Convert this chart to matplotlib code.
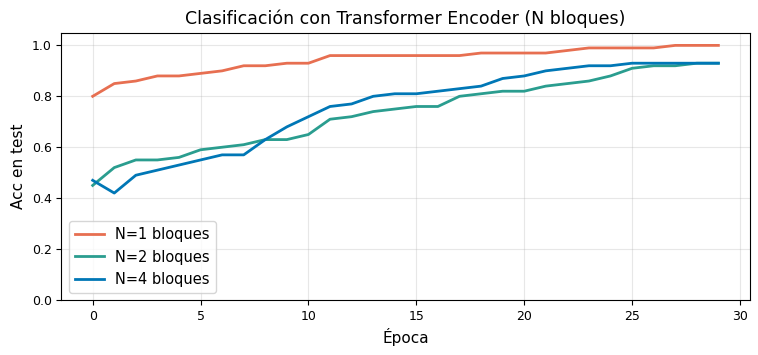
import matplotlib
matplotlib.use("Agg")
import matplotlib.pyplot as plt

# Accuracy per epoch for each number of encoder blocks
epochs = list(range(30))
acc_n1 = [0.80, 0.85, 0.86, 0.88, 0.88, 0.89, 0.90, 0.92, 0.92, 0.93,
          0.93, 0.96, 0.96, 0.96, 0.96, 0.96, 0.96, 0.96, 0.97, 0.97,
          0.97, 0.97, 0.98, 0.99, 0.99, 0.99, 0.99, 1.00, 1.00, 1.00]
acc_n2 = [0.45, 0.52, 0.55, 0.55, 0.56, 0.59, 0.60, 0.61, 0.63, 0.63,
          0.65, 0.71, 0.72, 0.74, 0.75, 0.76, 0.76, 0.80, 0.81, 0.82,
          0.82, 0.84, 0.85, 0.86, 0.88, 0.91, 0.92, 0.92, 0.93, 0.93]
acc_n4 = [0.47, 0.42, 0.49, 0.51, 0.53, 0.55, 0.57, 0.57, 0.63, 0.68,
          0.72, 0.76, 0.77, 0.80, 0.81, 0.81, 0.82, 0.83, 0.84, 0.87,
          0.88, 0.90, 0.91, 0.92, 0.92, 0.93, 0.93, 0.93, 0.93, 0.93]

fig = plt.figure(figsize=(7.58, 3.55), dpi=100)
ax = fig.add_axes([0.081, 0.155, 0.908, 0.753])

ax.plot(epochs, acc_n1, color="#e76f51", linewidth=2, label="N=1 bloques")
ax.plot(epochs, acc_n2, color="#2a9d8f", linewidth=2, label="N=2 bloques")
ax.plot(epochs, acc_n4, color="#0077b6", linewidth=2, label="N=4 bloques")

ax.set_ylim(0, 1.05)
ax.set_title("Clasificación con Transformer Encoder (N bloques)", fontsize=12.5)
ax.set_xlabel("Época", fontsize=11)
ax.set_ylabel("Acc en test", fontsize=11)
ax.tick_params(labelsize=9)
ax.grid(True, alpha=0.3)
ax.legend(loc="lower left", fontsize=10.5)

fig.savefig("out.png", dpi=100)
